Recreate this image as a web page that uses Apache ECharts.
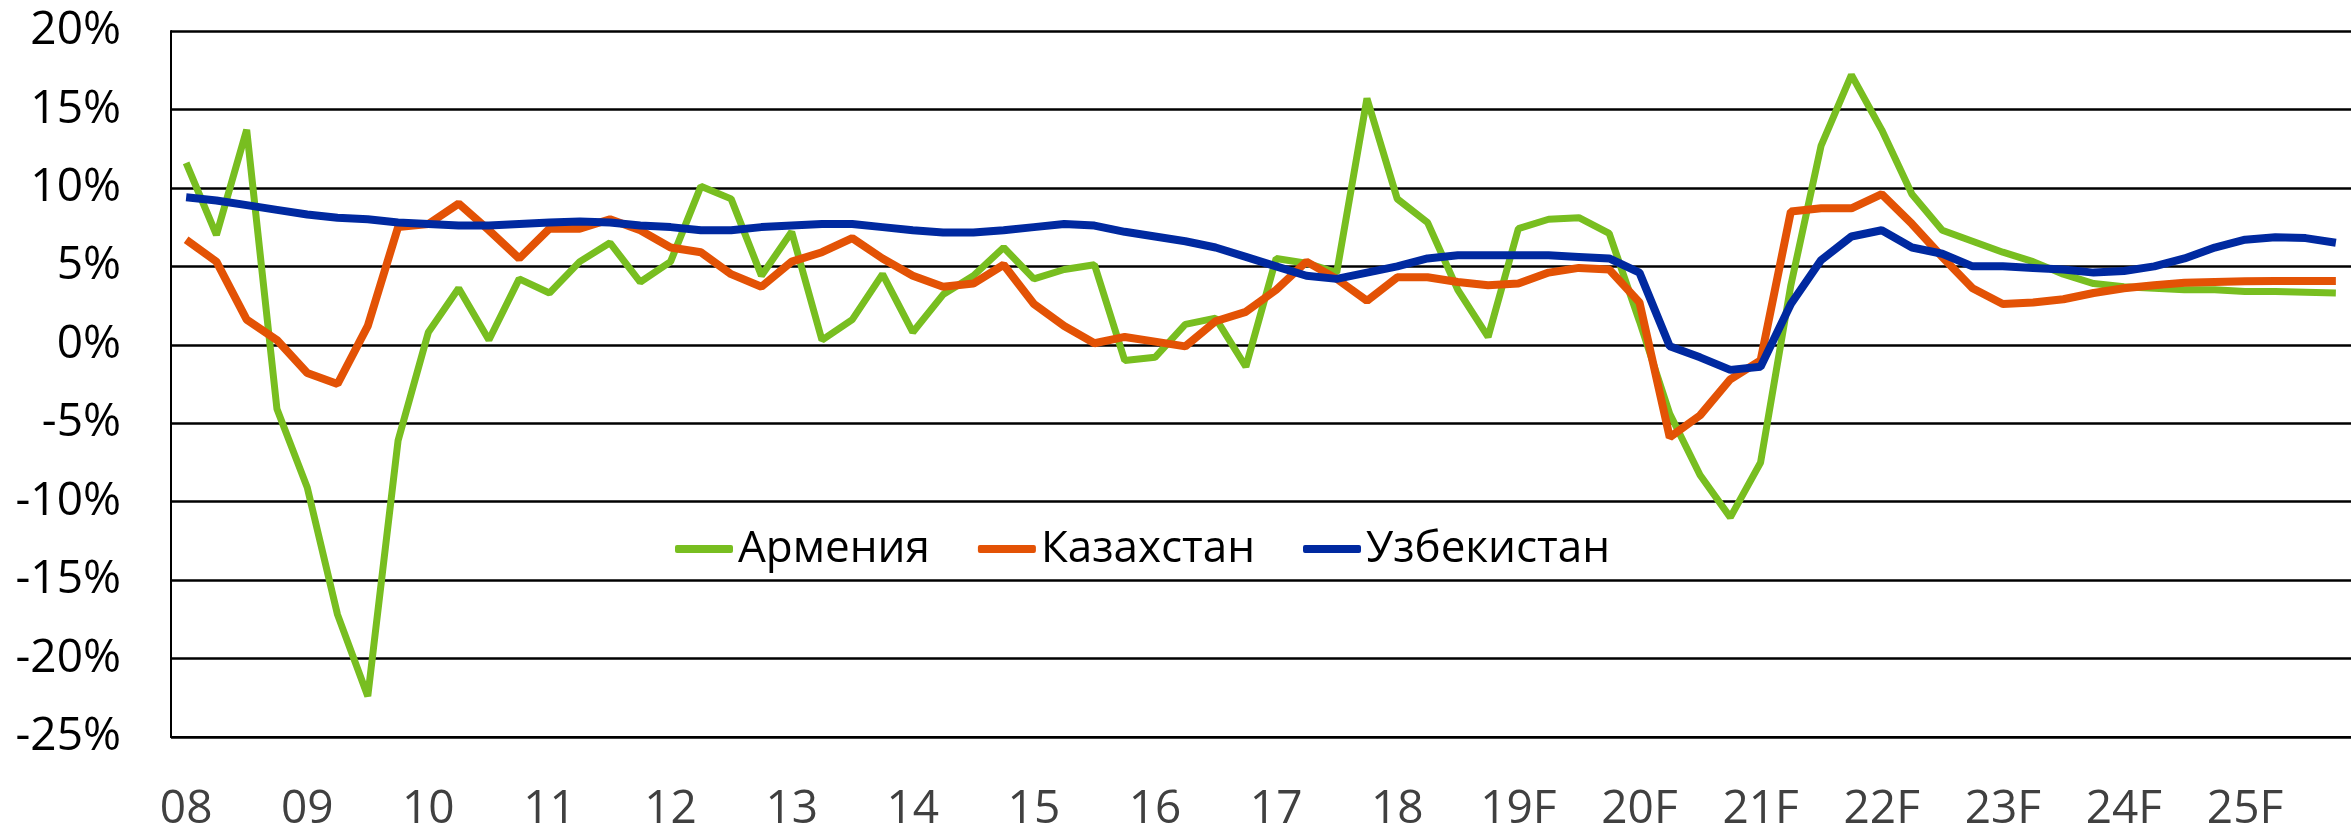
<!DOCTYPE html>
<html>
<head>
<meta charset="utf-8">
<script src="https://cdn.jsdelivr.net/npm/echarts@6/dist/echarts.min.js"></script>
<style>
  html, body { margin: 0; padding: 0; background: #fff; }
  #chart { width: 2351px; height: 833px; }
</style>
</head>
<body>
<div id="chart"></div>
<script>
// years on the axis, one label per year, four quarters each
const years = ["08", "09", "10", "11", "12", "13", "14", "15", "16", "17", "18",
  "19F", "20F", "21F", "22F", "23F", "24F", "25F"];

const armenia = [
  11.6, 7.0, 13.7, -4.1, -9.1, -17.2, -22.4, -6.1,
  0.8, 3.6, 0.3, 4.2, 3.3, 5.3, 6.5, 4.0,
  5.3, 10.1, 9.3, 4.4, 7.2, 0.3, 1.6, 4.5,
  0.8, 3.2, 4.4, 6.2, 4.2, 4.8, 5.1, -1.0,
  -0.8, 1.3, 1.7, -1.4, 5.5, 5.2, 4.6, 15.7,
  9.3, 7.8, 3.5, 0.5, 7.4, 8.0, 8.1, 7.1,
  1.5, -4.4, -8.3, -11.0, -7.5, 3.8, 12.7, 17.2,
  13.7, 9.6, 7.3, 6.6, 5.9, 5.3, 4.5, 3.9,
  3.7, 3.6, 3.5, 3.5, 3.4, 3.4, 3.35, 3.3
];

const kazakhstan = [
  6.7, 5.3, 1.6, 0.3, -1.8, -2.5, 1.2, 7.5,
  7.7, 9.0, 7.3, 5.5, 7.4, 7.4, 8.0, 7.3,
  6.2, 5.9, 4.5, 3.7, 5.3, 5.9, 6.8, 5.5,
  4.4, 3.7, 3.9, 5.1, 2.6, 1.2, 0.1, 0.5,
  0.2, -0.1, 1.5, 2.1, 3.5, 5.3, 4.2, 2.8,
  4.3, 4.3, 4.0, 3.8, 3.9, 4.6, 4.9, 4.8,
  2.7, -5.9, -4.5, -2.2, -1.0, 8.5, 8.7, 8.7,
  9.6, 7.7, 5.6, 3.6, 2.6, 2.7, 2.9, 3.3,
  3.6, 3.8, 3.95, 4.0, 4.05, 4.06, 4.06, 4.06
];

const uzbekistan = [
  9.4, 9.2, 8.9, 8.6, 8.3, 8.1, 8.0, 7.8,
  7.7, 7.6, 7.6, 7.7, 7.8, 7.85, 7.8, 7.6,
  7.5, 7.3, 7.3, 7.5, 7.6, 7.7, 7.7, 7.5,
  7.3, 7.15, 7.15, 7.3, 7.5, 7.7, 7.6, 7.2,
  6.9, 6.6, 6.2, 5.6, 5.0, 4.4, 4.2, 4.6,
  5.0, 5.5, 5.7, 5.7, 5.7, 5.7, 5.6, 5.5,
  4.6, -0.1, -0.8, -1.6, -1.4, 2.6, 5.4, 6.9,
  7.3, 6.2, 5.8, 5.0, 5.0, 4.9, 4.8, 4.6,
  4.7, 5.0, 5.5, 6.2, 6.7, 6.85, 6.8, 6.5
];

// quarterly categories built from the year list
const quarters = [];
years.forEach(y => {
  for (let q = 1; q <= 4; q++) quarters.push(y + "Q" + q);
});

const font = "'Open Sans', 'Noto Sans', sans-serif";

const chart = echarts.init(document.getElementById("chart"));
const option = {
  animation: false,
  backgroundColor: "#ffffff",
  grid: {
    left: 171,
    right: -16,
    top: 31,
    bottom: 88,
    containLabel: false
  },
  legend: {
    left: 670,
    top: 516,
    itemWidth: 58,
    itemHeight: 8,
    itemGap: 48,
    icon: "roundRect",
    textStyle: {
      fontFamily: font,
      fontSize: 44,
      color: "#000",
      lineHeight: 56
    },
    data: ["Армения", "Казахстан", "Узбекистан"]
  },
  xAxis: {
    type: "category",
    boundaryGap: true,
    data: quarters,
    axisLine: { onZero: false, lineStyle: { color: "#000", width: 2 } },
    axisTick: { show: false },
    axisLabel: {
      interval: 3,
      margin: 50,
      fontFamily: font,
      fontSize: 46,
      color: "#404040",
      formatter: v => v.slice(0, -2)
    },
    splitLine: { show: false }
  },
  yAxis: {
    type: "value",
    min: -25,
    max: 20,
    interval: 5,
    axisLine: { show: true, lineStyle: { color: "#000", width: 2 } },
    axisTick: { show: false },
    axisLabel: {
      margin: 50,
      fontFamily: font,
      fontSize: 46,
      color: "#000",
      formatter: "{value}%"
    },
    splitLine: { lineStyle: { color: "#000", width: 2.5 } }
  },
  series: [
    {
      name: "Армения",
      type: "line",
      data: armenia,
      showSymbol: false,
      color: "#78BE20",
      lineStyle: { width: 7 }
    },
    {
      name: "Казахстан",
      type: "line",
      data: kazakhstan,
      showSymbol: false,
      color: "#E35205",
      lineStyle: { width: 8 }
    },
    {
      name: "Узбекистан",
      type: "line",
      data: uzbekistan,
      showSymbol: false,
      color: "#0029A0",
      lineStyle: { width: 8 }
    }
  ]
};
chart.setOption(option);
</script>
</body>
</html>
